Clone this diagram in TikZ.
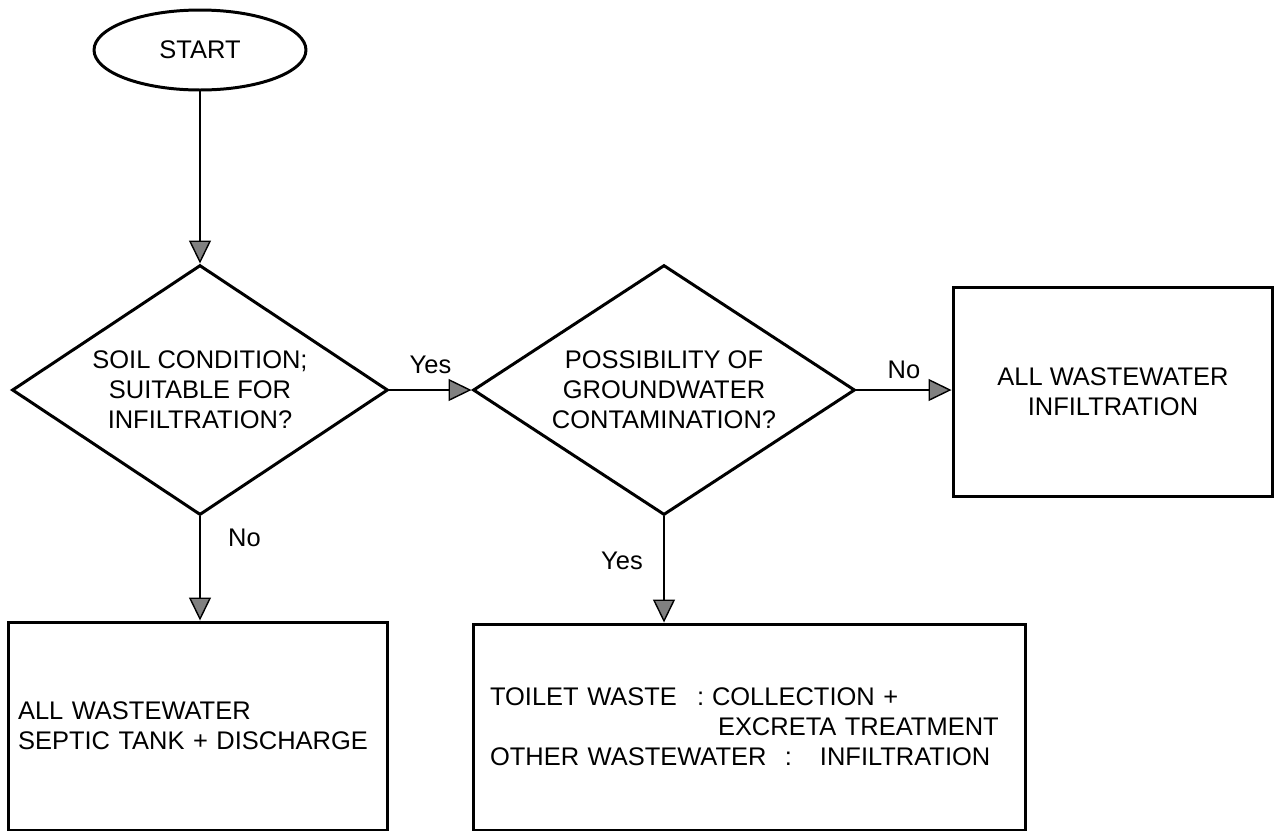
\documentclass[tikz,border=0pt]{standalone}
\usepackage{fontspec}
\setmainfont{Liberation Sans}
\usetikzlibrary{shapes.geometric,arrows.meta}
\begin{document}
\begin{tikzpicture}[x=0.02cm,y=-0.02cm,
  font=\fontsize{14.5}{17}\selectfont,
  shapeline/.style={line width=1.7pt},
  startnode/.style={ellipse, draw, shapeline, minimum width=4.24cm, minimum height=1.6cm, inner sep=0pt},
  decision/.style={diamond, draw, shapeline, aspect=1.5, inner sep=0pt, align=center},
  outcome/.style={rectangle, draw, shapeline, inner sep=0pt, align=center},
  conn/.style={line width=1.4pt, -{Triangle[length=0.46cm,width=0.44cm,fill=black!50,line width=0.8pt]}},
  lbl/.style={inner sep=0pt}
]
\useasboundingbox (0,0) rectangle (1275,833);

\node[startnode] (start) at (200,50) {START};
\node[decision, minimum width=7.52cm, minimum height=5cm] (soil) at (200,390)
  {SOIL CONDITION;\\SUITABLE FOR\\INFILTRATION?};
\node[decision, minimum width=7.64cm, minimum height=5cm] (ground) at (664,390)
  {POSSIBILITY OF\\GROUNDWATER\\CONTAMINATION?};
\node[outcome, minimum width=6.4cm, minimum height=4.18cm] (allinf) at (1113,392)
  {ALL WASTEWATER\\INFILTRATION};
\node[outcome, text width=7.2cm, inner xsep=0.2cm, minimum height=4.16cm, align=left] (septic) at (198,726)
  {ALL WASTEWATER\\SEPTIC TANK + DISCHARGE};
\node[outcome, text width=10.38cm, inner xsep=0.34cm, minimum height=4.12cm, align=left] (toilet) at (749.5,727)
  {\makebox[4.14cm][l]{TOILET WASTE}\makebox[0.3cm][l]{:}COLLECTION +\\
   \hspace*{4.56cm}EXCRETA TREATMENT\\
   \makebox[5.9cm][l]{OTHER WASTEWATER}\makebox[0.7cm][l]{:}INFILTRATION};

\draw[conn] (start.south) -- (soil.north);
\draw[conn] (soil.east) -- node[lbl, above, yshift=0.3cm] {Yes} (ground.west);
\draw[conn] (ground.east) -- node[lbl, above, yshift=0.2cm] {No} (ground.east -| allinf.west);
\draw[conn] (soil.south) -- node[lbl, pos=0.21, anchor=west, xshift=0.54cm] {No} (soil.south |- septic.north);
\draw[conn] (ground.south) -- node[lbl, pos=0.42, anchor=east, xshift=-0.4cm] {Yes} (ground.south |- toilet.north);
\end{tikzpicture}
\end{document}
